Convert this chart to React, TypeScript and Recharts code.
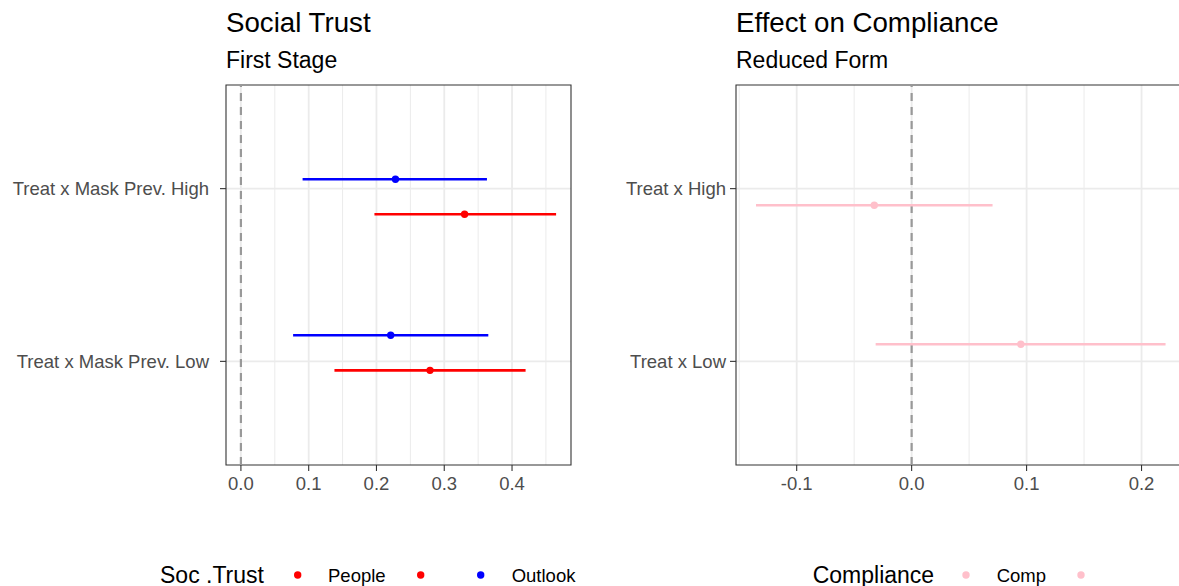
import React from "react";
import {
  ScatterChart,
  Scatter,
  XAxis,
  YAxis,
  CartesianGrid,
  ErrorBar,
  ReferenceLine,
  ReferenceArea,
} from "recharts";

// ---------- Data ----------
const leftCategories = ["Treat x Mask Prev. High", "Treat x Mask Prev. Low"];
const peopleEst = [0.33, 0.279];
const peopleLo = [0.197, 0.138];
const peopleHi = [0.465, 0.42];
const peopleDodge = [0.148, 0.052];
const outlookEst = [0.228, 0.221];
const outlookLo = [0.091, 0.077];
const outlookHi = [0.363, 0.365];
const outlookDodge = [-0.054, -0.151];

const rightCategories = ["Treat x High", "Treat x Low"];
const compEst = [-0.0325, 0.095];
const compLo = [-0.1354, -0.0313];
const compHi = [0.0704, 0.2209];
const compDodge = [0.096, -0.099];

const leftTicks = [0, 0.1, 0.2, 0.3, 0.4];
const leftMinor = [0.05, 0.15, 0.25, 0.35, 0.45];
const rightTicks = [-0.1, 0, 0.1, 0.2];
const rightMinor = [-0.15, -0.05, 0.05, 0.15];
const catTicks = [1, 2];

// ---------- Helpers ----------
const FONT = '"Liberation Sans", Arial, Helvetica, sans-serif';
const RED = "#FF0000";
const BLUE = "#0000FF";
const PINK = "#FFC0CB";

function build(est: number[], lo: number[], hi: number[], dodge: number[]) {
  return est.map((e, i) => ({
    x: e,
    y: i + 1 + dodge[i],
    err: [e - lo[i], hi[i] - e],
  }));
}

const dot = (color: string) => (props: any) => (
  <circle cx={props.cx} cy={props.cy} r={3.7} fill={color} />
);

interface PanelProps {
  left: number;
  width: number;
  marginRight: number;
  yAxisWidth: number;
  tickMargin: number;
  domain: [number, number];
  ticks: number[];
  minor: number[];
  categories: string[];
  series: { data: any[]; color: string; name: string }[];
}

function Panel(p: PanelProps) {
  return (
    <div style={{ position: "absolute", left: p.left, top: 0 }}>
      <ScatterChart
        width={p.width}
        height={586}
        margin={{ top: 85, right: p.marginRight, left: 0, bottom: 91 }}
      >
        <CartesianGrid
          verticalValues={p.minor}
          horizontal={false}
          stroke="#EBEBEB"
          strokeWidth={1}
        />
        <CartesianGrid
          verticalValues={p.ticks}
          horizontalValues={catTicks}
          stroke="#EBEBEB"
          strokeWidth={1.8}
        />
        <XAxis
          type="number"
          dataKey="x"
          domain={p.domain}
          allowDataOverflow
          ticks={p.ticks}
          interval={0}
          height={30}
          tickFormatter={(v: number) => v.toFixed(1)}
          tick={{ fill: "#4D4D4D", fontSize: 18.5, fontFamily: FONT }}
          tickSize={6}
          tickMargin={6}
          tickLine={{ stroke: "#333333", strokeWidth: 1.1 }}
          axisLine={false}
        />
        <YAxis
          type="number"
          dataKey="y"
          domain={[0.4, 2.6]}
          reversed
          allowDataOverflow
          ticks={catTicks}
          interval={0}
          width={p.yAxisWidth}
          tickFormatter={(v: number) => p.categories[Math.round(v) - 1] ?? ""}
          tick={{ fill: "#4D4D4D", fontSize: 18.5, fontFamily: FONT }}
          tickSize={6}
          tickMargin={p.tickMargin}
          tickLine={{ stroke: "#333333", strokeWidth: 1.1 }}
          axisLine={false}
        />
        <ReferenceLine
          x={0}
          stroke="#999999"
          strokeWidth={2.2}
          strokeDasharray="8 6"
        />
        {p.series.map((s) => (
          <Scatter
            key={s.name}
            name={s.name}
            data={s.data}
            shape={dot(s.color)}
            isAnimationActive={false}
          >
            <ErrorBar
              dataKey="err"
              direction="x"
              width={0}
              stroke={s.color}
              strokeWidth={2.6}
              isAnimationActive={false}
            />
          </Scatter>
        ))}
        <ReferenceArea
          x1={p.domain[0]}
          x2={p.domain[1]}
          y1={0.4}
          y2={2.6}
          fill="none"
          fillOpacity={0}
          stroke="#333333"
          strokeWidth={1.1}
          ifOverflow="visible"
        />
      </ScatterChart>
    </div>
  );
}

export default function App() {
  const leftSeries = [
    { name: "People", color: RED, data: build(peopleEst, peopleLo, peopleHi, peopleDodge) },
    { name: "Outlook", color: BLUE, data: build(outlookEst, outlookLo, outlookHi, outlookDodge) },
  ];
  const rightSeries = [
    { name: "Comp", color: PINK, data: build(compEst, compLo, compHi, compDodge) },
  ];
  return (
    <div
      style={{
        position: "fixed",
        left: 0,
        top: 0,
        width: 1179,
        height: 586,
        overflow: "hidden",
        background: "#FFFFFF",
        fontFamily: FONT,
      }}
    >
      <Panel
        left={0}
        width={600}
        marginRight={29}
        yAxisWidth={226}
        tickMargin={11}
        domain={[-0.022, 0.487]}
        ticks={leftTicks}
        minor={leftMinor}
        categories={leftCategories}
        series={leftSeries}
      />
      <Panel
        left={590}
        width={620}
        marginRight={11}
        yAxisWidth={146}
        tickMargin={4}
        domain={[-0.1528, 0.25]}
        ticks={rightTicks}
        minor={rightMinor}
        categories={rightCategories}
        series={rightSeries}
      />
      <svg
        width={1179}
        height={586}
        style={{ position: "absolute", left: 0, top: 0, pointerEvents: "none" }}
      >
        <g fontFamily={FONT} fill="#000000">
          <text x={226} y={32} fontSize={27.7}>Social Trust</text>
          <text x={226} y={68} fontSize={23}>First Stage</text>
          <text x={736} y={32} fontSize={27.7}>Effect on Compliance</text>
          <text x={736} y={68} fontSize={23}>Reduced Form</text>

          <text x={160} y={583} fontSize={23}>Soc .Trust</text>
          <circle cx={297.7} cy={575} r={3.7} fill={RED} />
          <text x={328} y={582} fontSize={18.5}>People</text>
          <circle cx={420.7} cy={575} r={3.7} fill={RED} />
          <circle cx={480.7} cy={575} r={3.7} fill={BLUE} />
          <text x={511.7} y={582} fontSize={18.5}>Outlook</text>

          <text x={812.7} y={583} fontSize={23}>Compliance</text>
          <circle cx={966} cy={575} r={3.7} fill={PINK} />
          <text x={996.7} y={582} fontSize={18.5}>Comp</text>
          <circle cx={1081} cy={575} r={3.7} fill={PINK} />
        </g>
      </svg>
    </div>
  );
}
